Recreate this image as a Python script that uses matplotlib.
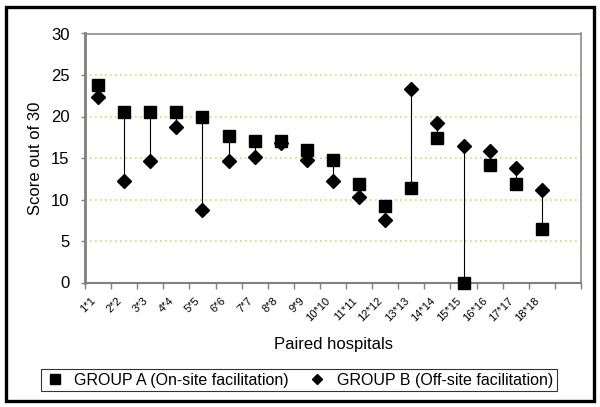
import matplotlib
matplotlib.use("Agg")
import matplotlib.pyplot as plt
import matplotlib.patches as mpatches
from matplotlib.lines import Line2D
from matplotlib.transforms import ScaledTranslation
import numpy as np

plt.rcParams['font.family'] = ['Liberation Sans', 'DejaVu Sans']

labels = ["1*1", "2*2", "3*3", "4*4", "5*5", "6*6", "7*7", "8*8", "9*9",
          "10*10", "11*11", "12*12", "13*13", "14*14", "15*15", "16*16", "17*17", "18*18"]
group_a = [23.8, 20.5, 20.5, 20.5, 20.0, 17.7, 17.0, 17.0, 16.0,
           14.8, 11.9, 9.2, 11.4, 17.4, 0.0, 14.1, 11.9, 6.5]
group_b = [22.4, 12.2, 14.6, 18.7, 8.7, 14.6, 15.1, 16.8, 14.8,
           12.2, 10.3, 7.5, 23.3, 19.2, 16.5, 15.8, 13.8, 11.1]
yticks = [0, 5, 10, 15, 20, 25, 30]

W, H = 600, 407
fig = plt.figure(figsize=(W / 100, H / 100), dpi=100)
ax = fig.add_axes([85 / W, 1 - 282.5 / H, (581 - 85) / W, (282.5 - 33.5) / H])

x = np.arange(len(labels))
n_cat = len(labels) + 1

grid_col = '#d2df5a'
for yv in yticks[1:]:
    ax.axhline(yv, color=grid_col, lw=1.2, ls=(0, (1, 2)), zorder=1)

ax.vlines(x, np.minimum(group_a, group_b), np.maximum(group_a, group_b),
          color='black', lw=0.8, zorder=2)
ax.plot(x, group_a, ls='none', marker='s', ms=8, color='black', zorder=4, clip_on=False)
ax.plot(x, group_b, ls='none', marker='D', ms=6.8, color='black', zorder=3, clip_on=False)

ax.set_xlim(-0.5, n_cat - 0.5)
ax.set_ylim(0, 30)
ax.set_yticks(yticks)
ax.set_yticklabels([str(v) for v in yticks], fontsize=12)
ax.tick_params(axis='y', length=3, width=1, color='#808080', pad=8)

ax.set_xticks(np.arange(-0.5, n_cat, 1.0))
ax.set_xticklabels([])
ax.tick_params(axis='x', which='major', length=4, width=1, color='#808080', direction='out')
ax.set_xticks(x, minor=True)
ax.set_xticklabels(labels, minor=True, fontsize=8, rotation=45, ha='right',
                   va='center', rotation_mode='anchor')
ax.tick_params(axis='x', which='minor', length=0, pad=12)
off = ScaledTranslation(-4 / 100, 0, fig.dpi_scale_trans)
for lab in ax.get_xticklabels(minor=True):
    lab.set_transform(lab.get_transform() + off)

for s in ['top', 'right']:
    ax.spines[s].set_color('#8c8c8c')
    ax.spines[s].set_linewidth(1.2)
ax.spines['left'].set_color('#808080')
ax.spines['left'].set_linewidth(2)
ax.spines['bottom'].set_color('#808080')
ax.spines['bottom'].set_linewidth(1.5)

fig.text(333 / W, 1 - 344 / H, "Paired hospitals", ha='center', va='center', fontsize=12)
fig.text(36 / W, 1 - 158 / H, "Score out of 30", ha='center', va='center',
         rotation=90, fontsize=12)

handles = [Line2D([], [], ls='none', marker='s', ms=7.5, color='black'),
           Line2D([], [], ls='none', marker='D', ms=5.5, color='black')]
leg = fig.legend(handles, ["GROUP A (On-site facilitation)", "GROUP B (Off-site facilitation)"],
                 ncol=2, loc='center', bbox_to_anchor=(299 / W, 1 - 380 / H),
                 fontsize=11.5, frameon=True, fancybox=False, handlelength=1.2,
                 handletextpad=0.6, columnspacing=1.2, borderpad=0.25,
                 borderaxespad=0)
leg.get_frame().set_edgecolor('black')
leg.get_frame().set_linewidth(0.8)

fig.patches.append(mpatches.Rectangle((6 / W, 6 / H), 588 / W, 394 / H,
                                      transform=fig.transFigure, fill=False,
                                      edgecolor='black', lw=2.4))

fig.savefig("out.png", dpi=100)
